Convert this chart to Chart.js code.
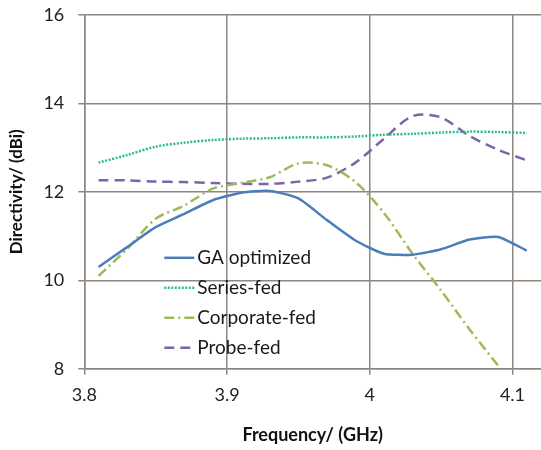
<!DOCTYPE html>
<html><head><meta charset="utf-8">
<script src="https://cdn.jsdelivr.net/npm/chart.js@4/dist/chart.umd.min.js"></script>
<style>html,body{margin:0;padding:0;background:#fff;overflow:hidden}#wrap{width:541px;height:450px;position:relative;overflow:hidden}#c{position:absolute;left:0;top:-10px}</style>
</head><body><div id="wrap"><canvas id="c" width="541" height="460"></canvas></div>
<script>
const freqs = [3.81,3.83,3.85,3.87,3.89,3.91,3.93,3.95,3.97,3.99,4.01,4.03,4.05,4.07,4.09,4.11];
const gaOptimized = [10.30,10.75,11.20,11.50,11.81,11.98,12.02,11.85,11.36,10.90,10.60,10.58,10.70,10.92,10.98,10.67];
const seriesFed   = [12.66,12.83,13.02,13.11,13.17,13.20,13.21,13.23,13.23,13.25,13.29,13.31,13.34,13.36,13.35,13.33];
const corporateFed= [10.10,10.71,11.39,11.69,12.07,12.20,12.33,12.64,12.60,12.22,11.52,10.60,9.77,8.89,8.07,null];
const probeFed    = [12.26,12.26,12.23,12.22,12.20,12.18,12.18,12.23,12.32,12.66,13.20,13.71,13.68,13.26,12.95,12.71];
const xTicks = [3.8,3.9,4.0,4.1];
const yTicks = [8,10,12,14,16];
const seriesNames = ['GA optimized','Series-fed','Corporate-fed','Probe-fed'];

const FONT = 'Lato, "Open Sans", sans-serif';
const pts = arr => freqs.map((f,i)=>({x:f,y:arr[i]})).filter(p=>p.y!==null);

const legendPlugin = {
  id:'inLegend',
  afterDatasetsDraw(chart){
    const ctx = chart.ctx, a = chart.chartArea;
    ctx.save();
    chart.data.datasets.forEach((ds,i)=>{
      const y = a.top + 243 + i*30;
      const x0 = a.left + 80, x1 = a.left + 110;
      ctx.strokeStyle = ds.borderColor;
      ctx.lineWidth = ds.borderWidth;
      ctx.setLineDash(ds.borderDash||[]);
      ctx.beginPath(); ctx.moveTo(x0,y); ctx.lineTo(x1,y); ctx.stroke();
      ctx.setLineDash([]);
      ctx.fillStyle = '#1a1a1a';
      ctx.font = '19px '+FONT;
      ctx.textBaseline = 'middle';
      ctx.fillText(ds.label, x1+3, y);
    });
    ctx.restore();
  }
};

new Chart(document.getElementById('c'),{
  type:'line',
  data:{datasets:[
    {label:seriesNames[0],data:pts(gaOptimized),borderColor:'#4a7ebb',borderWidth:2.5,tension:0.2},
    {label:seriesNames[1],data:pts(seriesFed),borderColor:'#2bbd8a',borderWidth:2.5,borderDash:[2,1.5],tension:0.3},
    {label:seriesNames[2],data:pts(corporateFed),borderColor:'#9bbb59',borderWidth:2.5,borderDash:[10,4,2,4],tension:0.3},
    {label:seriesNames[3],data:pts(probeFed),borderColor:'#7f63a8',borderWidth:2.5,borderDash:[10,6],tension:0.3}
  ]},
  options:{
    responsive:false,animation:false,
    layout:{padding:{left:6,right:0,top:0,bottom:4}},
    elements:{point:{radius:0}},
    plugins:{legend:{display:false},tooltip:{enabled:false}},
    scales:{
      x:{type:'linear',min:3.8,max:4.12,
        afterBuildTicks(s){s.ticks=xTicks.map(v=>({value:v}));},
        ticks:{font:{family:FONT,size:18},color:'#222',padding:10,callback:v=>String(v)},
        grid:{color:'#8f8680',lineWidth:1.5,tickLength:6},
        border:{color:'#8f8680',width:1.5},
        title:{display:true,text:'Frequency/ (GHz)',font:{family:FONT,size:18,weight:'bold'},color:'#111',padding:{top:8,bottom:0}}
      },
      y:{min:8,max:16,
        afterBuildTicks(s){s.ticks=yTicks.map(v=>({value:v}));},
        ticks:{font:{family:FONT,size:18},color:'#222',padding:14},
        grid:{color:'#8f8680',lineWidth:1.5,tickLength:6},
        border:{color:'#8f8680',width:1.5},
        title:{display:true,text:'Directivity/ (dBi)',font:{family:FONT,size:17,weight:'bold'},color:'#111',padding:{top:0,bottom:3}}
      }
    }
  },
  plugins:[legendPlugin]
});
</script></body></html>
